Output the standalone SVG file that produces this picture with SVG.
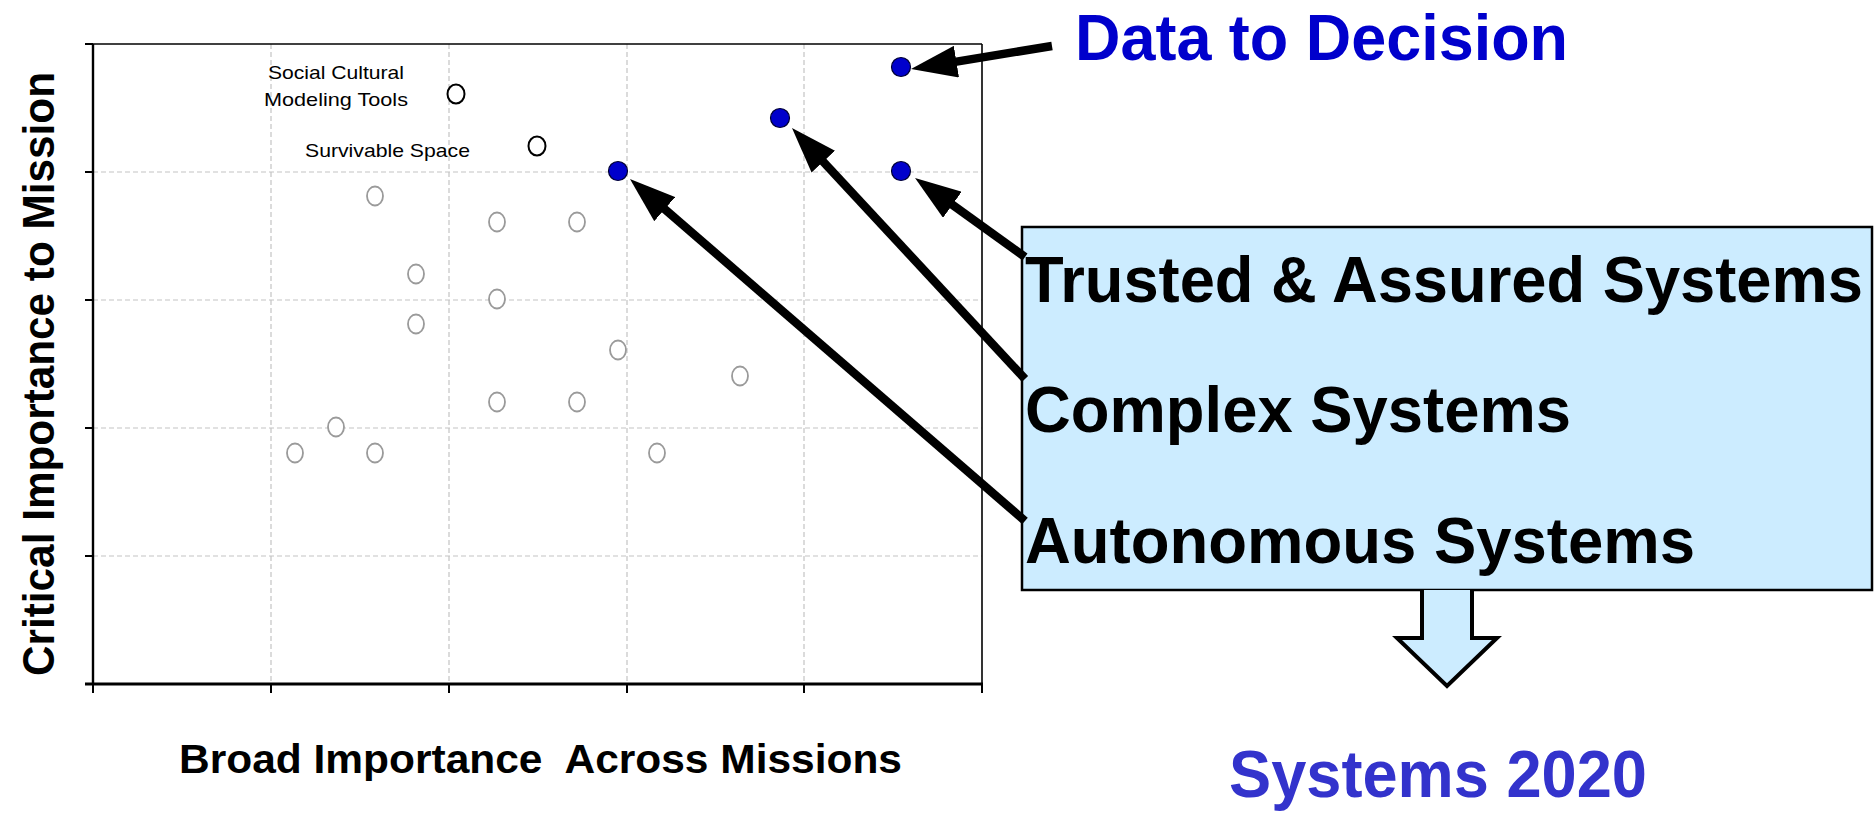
<svg xmlns="http://www.w3.org/2000/svg" width="1874" height="814" viewBox="0 0 1874 814">
<style>
.grid{stroke:#c4c4c4;stroke-width:1.2;stroke-dasharray:5 3;fill:none}
.tick{stroke:#000;stroke-width:2}
.gray{fill:#fff;stroke:#9a9a9a;stroke-width:1.8}
.open{fill:#fff;stroke:#000;stroke-width:2}
.blue{fill:#0000CC;stroke:#000033;stroke-width:1.2}
.lbl{font-family:"Liberation Sans",Arial,sans-serif;font-size:19px;fill:#000}
.big{font-family:"Liberation Sans",Arial,sans-serif;font-weight:bold;fill:#000}
.arrow{stroke:#000;stroke-width:8.5;fill:none;marker-end:url(#ah)}
</style>
<defs>
<marker id="ah" markerUnits="userSpaceOnUse" viewBox="0 0 46 32" refX="6" refY="16" markerWidth="46" markerHeight="32" orient="auto">
<path d="M0,0 L46,16 L0,32 z" fill="#000"/>
</marker>
</defs>
<rect width="1874" height="814" fill="#fff"/>
<g id="plot">
<g class="grid">
<line x1="93" y1="172" x2="982" y2="172"/>
<line x1="93" y1="300" x2="982" y2="300"/>
<line x1="93" y1="428" x2="982" y2="428"/>
<line x1="93" y1="556" x2="982" y2="556"/>
<line x1="271" y1="44" x2="271" y2="684"/>
<line x1="449" y1="44" x2="449" y2="684"/>
<line x1="627" y1="44" x2="627" y2="684"/>
<line x1="804" y1="44" x2="804" y2="684"/>
</g>
<line x1="93" y1="44" x2="982" y2="44" stroke="#000" stroke-width="1.6"/>
<line x1="982" y1="44" x2="982" y2="684" stroke="#000" stroke-width="1.6"/>
<line x1="93" y1="44" x2="93" y2="685" stroke="#000" stroke-width="2.4"/>
<line x1="85" y1="684" x2="983" y2="684" stroke="#000" stroke-width="3"/>
<g class="tick">
<line x1="85" y1="44" x2="93" y2="44"/>
<line x1="85" y1="172" x2="93" y2="172"/>
<line x1="85" y1="300" x2="93" y2="300"/>
<line x1="85" y1="428" x2="93" y2="428"/>
<line x1="85" y1="556" x2="93" y2="556"/>
<line x1="93" y1="684" x2="93" y2="693"/>
<line x1="271" y1="684" x2="271" y2="693"/>
<line x1="449" y1="684" x2="449" y2="693"/>
<line x1="627" y1="684" x2="627" y2="693"/>
<line x1="804" y1="684" x2="804" y2="693"/>
<line x1="982" y1="684" x2="982" y2="693"/>
</g>
<g id="gray-points">
<ellipse class="gray" cx="375" cy="196" rx="8" ry="9.5"/>
<ellipse class="gray" cx="497" cy="222" rx="8" ry="9.5"/>
<ellipse class="gray" cx="577" cy="222" rx="8" ry="9.5"/>
<ellipse class="gray" cx="416" cy="274" rx="8" ry="9.5"/>
<ellipse class="gray" cx="497" cy="299" rx="8" ry="9.5"/>
<ellipse class="gray" cx="416" cy="324" rx="8" ry="9.5"/>
<ellipse class="gray" cx="618" cy="350" rx="8" ry="9.5"/>
<ellipse class="gray" cx="740" cy="376" rx="8" ry="9.5"/>
<ellipse class="gray" cx="497" cy="402" rx="8" ry="9.5"/>
<ellipse class="gray" cx="577" cy="402" rx="8" ry="9.5"/>
<ellipse class="gray" cx="336" cy="427" rx="8" ry="9.5"/>
<ellipse class="gray" cx="295" cy="453" rx="8" ry="9.5"/>
<ellipse class="gray" cx="375" cy="453" rx="8" ry="9.5"/>
<ellipse class="gray" cx="657" cy="453" rx="8" ry="9.5"/>
</g>
<g id="social-cultural">
<ellipse class="open" cx="456" cy="94" rx="8.5" ry="9.5"/>
<text class="lbl" x="336" y="79" text-anchor="middle" textLength="136" lengthAdjust="spacingAndGlyphs">Social Cultural</text>
<text class="lbl" x="336" y="106" text-anchor="middle" textLength="144" lengthAdjust="spacingAndGlyphs">Modeling Tools</text>
</g>
<g id="survivable-space">
<ellipse class="open" cx="537" cy="146" rx="8.5" ry="9.5"/>
<text class="lbl" x="305" y="157" textLength="165" lengthAdjust="spacingAndGlyphs">Survivable Space</text>
</g>
<g id="blue-points">
<circle class="blue" cx="901" cy="67" r="9.5"/>
<circle class="blue" cx="780" cy="118" r="9.5"/>
<circle class="blue" cx="618" cy="171" r="9.5"/>
<circle class="blue" cx="901" cy="171" r="9.5"/>
</g>
</g>
<g id="axis-labels">
<text class="big" x="179" y="773" font-size="41" textLength="723" lengthAdjust="spacingAndGlyphs" xml:space="preserve">Broad Importance  Across Missions</text>
<text class="big" transform="translate(54,374) rotate(-90)" x="0" y="0" font-size="45" text-anchor="middle" textLength="604" lengthAdjust="spacingAndGlyphs">Critical Importance to Mission</text>
</g>
<g id="data-to-decision">
<text class="big" x="1075" y="60" font-size="64" style="fill:#0000CC" textLength="493" lengthAdjust="spacingAndGlyphs">Data to Decision</text>
</g>
<g id="systems-box">
<rect x="1022" y="227" width="850" height="363" fill="#CCECFF" stroke="#000" stroke-width="2.5"/>
<text class="big" x="1025" y="302" font-size="65" textLength="838" lengthAdjust="spacingAndGlyphs">Trusted &amp; Assured Systems</text>
<text class="big" x="1025" y="432" font-size="65" textLength="546" lengthAdjust="spacingAndGlyphs">Complex Systems</text>
<text class="big" x="1025" y="563" font-size="65" textLength="670" lengthAdjust="spacingAndGlyphs">Autonomous Systems</text>
</g>
<g id="down-arrow">
<path d="M1422,590 L1422,638 L1397,638 L1447,686 L1497,638 L1472,638 L1472,590" fill="#CCECFF" stroke="#000" stroke-width="4"/>
</g>
<g id="systems-2020">
<text class="big" x="1229" y="797" font-size="66" style="fill:#3333CC" textLength="418" lengthAdjust="spacingAndGlyphs">Systems 2020</text>
</g>
<g id="connectors">
<line class="arrow" x1="1052" y1="46" x2="950.5" y2="62.6"/>
<line class="arrow" x1="1025" y1="257" x2="947.5" y2="201.3"/>
<line class="arrow" x1="1025" y1="379" x2="819.2" y2="157.3"/>
<line class="arrow" x1="1025" y1="521" x2="660.2" y2="205.2"/>
</g>
</svg>
